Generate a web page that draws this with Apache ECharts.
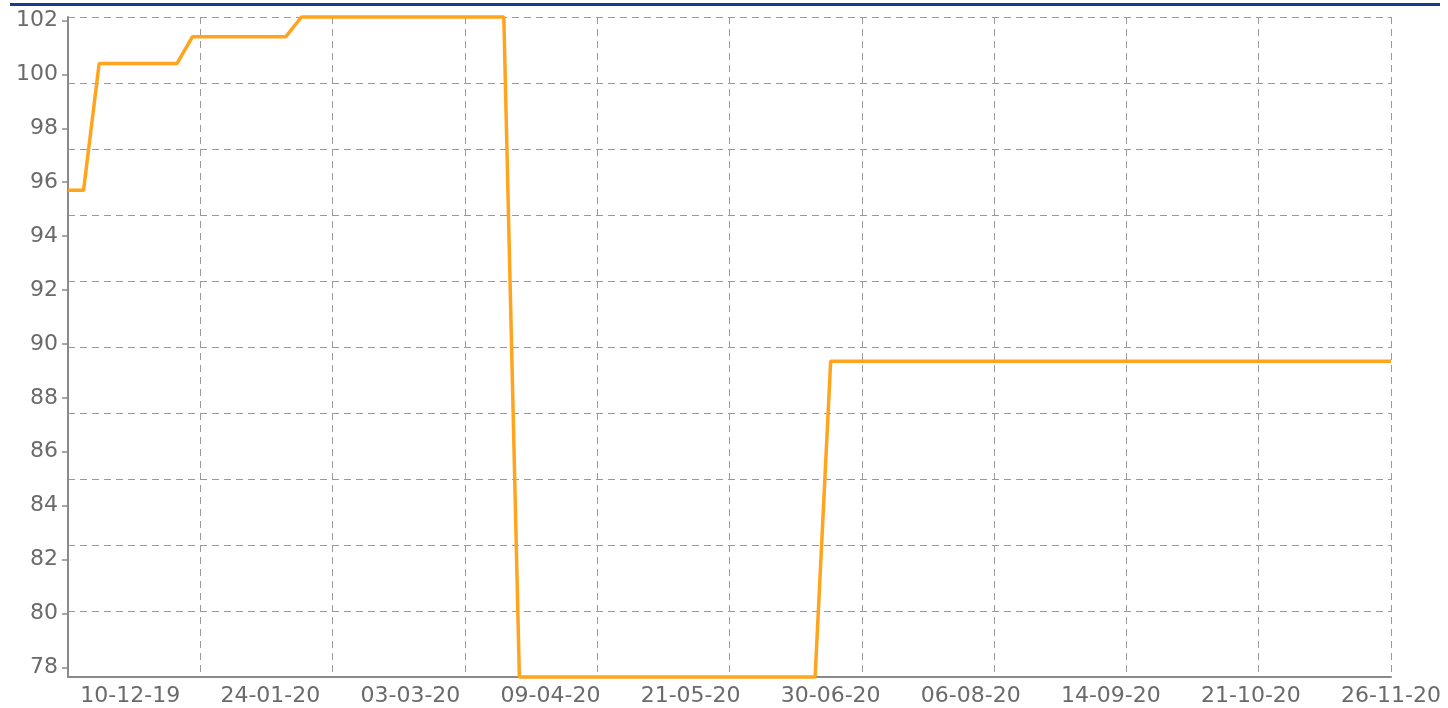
<!DOCTYPE html>
<html>
<head>
<meta charset="utf-8">
<script src="https://cdn.jsdelivr.net/npm/echarts@6/dist/echarts.min.js"></script>
<style>
html,body{margin:0;padding:0;background:#fff;}
#c{width:1448px;height:708px;}
</style>
</head>
<body>
<div id="c"></div>
<script>
// Category (observation) index of each labelled date
const dateLabels = ["10-12-19","24-01-20","03-03-20","09-04-20","21-05-20","30-06-20","06-08-20","14-09-20","21-10-20","26-11-20"];
const labelIndex = [4, 13, 22, 31, 40, 49, 58, 67, 76, 85];
// Series: observation index and value at each point where the step line bends
const pointIndex = [0, 1, 2, 7, 8, 14, 15, 28, 29, 48, 49, 85];
const pointValue = [95.7, 95.7, 100.4, 100.4, 101.4, 101.4, 102.13, 102.13, 77.64, 77.64, 89.36, 89.36];
const yTicks = [78, 80, 82, 84, 86, 88, 90, 92, 94, 96, 98, 100, 102];

const yMin = Math.min(...pointValue), yMax = Math.max(...pointValue);
const xMin = pointIndex[0], xMax = pointIndex[pointIndex.length - 1];
const labelMap = {};
labelIndex.forEach((i, k) => { labelMap[i] = dateLabels[k]; });

const font = 'DejaVu Sans, Liberation Sans, Arial, sans-serif';
const gridLine = { show: true, lineStyle: { color: '#9a9a9a', type: [7, 5], width: 1 } };

const chart = echarts.init(document.getElementById('c'), null, { renderer: 'canvas' });
chart.setOption({
  animation: false,
  backgroundColor: '#fff',
  graphic: [{
    type: 'rect', shape: { x: 10, y: 3, width: 1430, height: 3 },
    style: { fill: '#1b3a87' }, silent: true
  }],
  grid: { left: 68, right: 57, top: 17, bottom: 31, containLabel: false },
  xAxis: [{
    type: 'value', min: xMin, max: xMax,
    axisLine: { show: true, lineStyle: { color: '#8a8a8a', width: 2 } },
    axisTick: { show: false },
    splitLine: { show: false },
    axisLabel: {
      customValues: labelIndex,
      formatter: v => labelMap[v] || '',
      color: '#6a6a6a', fontSize: 22, fontFamily: font, margin: 8
    }
  }, {
    type: 'value', min: 0, max: 10, interval: 1, position: 'top',
    axisLine: { show: false }, axisTick: { show: false }, axisLabel: { show: false },
    splitLine: gridLine
  }],
  yAxis: [{
    type: 'value', min: yMin, max: yMax,
    axisLine: { show: true, lineStyle: { color: '#8a8a8a', width: 2 } },
    axisTick: { show: true, customValues: yTicks, length: 6, lineStyle: { color: '#8a8a8a', width: 1.5 } },
    splitLine: { show: false },
    axisLabel: {
      customValues: yTicks,
      color: '#6a6a6a', fontSize: 22, fontFamily: font, margin: 10
    }
  }, {
    type: 'value', min: 0, max: 10, interval: 1, position: 'right',
    axisLine: { show: false }, axisTick: { show: false }, axisLabel: { show: false },
    splitLine: gridLine
  }],
  series: [{
    type: 'line',
    xAxisIndex: 0, yAxisIndex: 0,
    data: pointIndex.map((x, i) => [x, pointValue[i]]),
    showSymbol: false,
    lineStyle: { color: '#ffa41c', width: 3.5 },
    clip: false,
    z: 5
  }]
});
</script>
</body>
</html>
